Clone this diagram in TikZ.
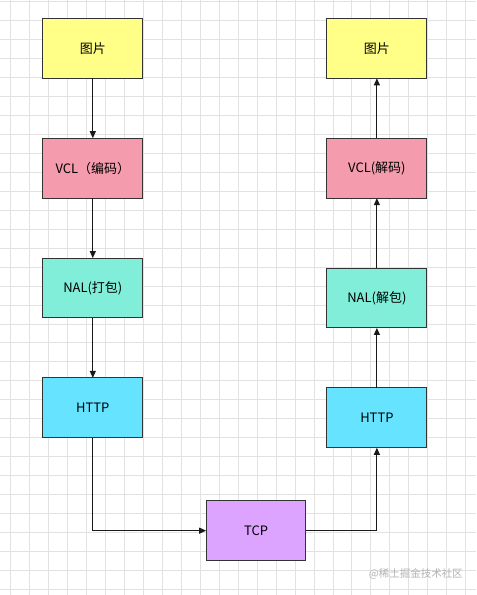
\documentclass[tikz,border=0pt]{standalone}
\usepackage{fontspec}
\setmainfont{Noto Sans CJK SC}
\usepackage{xcolor}
\usetikzlibrary{positioning,arrows.meta}

\definecolor{picyellow}{HTML}{FFFF88}
\definecolor{vclpink}{HTML}{F49CAD}
\definecolor{nalmint}{HTML}{80EED8}
\definecolor{httpcyan}{HTML}{66E3FF}
\definecolor{tcppurple}{HTML}{DCA4FF}
\definecolor{gridgray}{HTML}{E2E2E2}

\begin{document}
\begin{tikzpicture}[x=1pt, y=-1pt,
      every node/.style = {minimum width = 100pt, minimum height = 60pt, draw = black!80, rectangle, line width = 1pt, outer sep = 0pt, font = \fontsize{13}{15}\selectfont, inner sep = 0pt},
      flow/.style = {draw = black!90, line width = 1pt, -{Triangle[length = 7pt, width = 6pt]}}
      ]
      % background grid
      \fill[white] (0,0) rectangle (476,595);
      \foreach \gx in {10,29,...,476} \draw[gridgray, line width = 0.9pt] (\gx,0) -- (\gx,595);
      \foreach \gy in {1,20,...,595} \draw[gridgray, line width = 0.9pt] (0,\gy) -- (476,\gy);
      \useasboundingbox (0,0) rectangle (476,595);

      % sender side
      \node[fill = picyellow] (picL) at (92.5,48) {图片};
      \node[fill = vclpink, below = 60pt of picL] (vclL) {VCL（编码）};
      \node[fill = nalmint, below = 60pt of vclL] (nalL) {NAL(打包)};
      \node[fill = httpcyan, below = 60pt of nalL] (httpL) {HTTP};

      % network
      \node[fill = tcppurple] (tcp) at (256,531) {TCP};

      % receiver side
      \node[fill = picyellow] (picR) at (377,48) {图片};
      \node[fill = vclpink, below = 60pt of picR] (vclR) {VCL(解码)};
      \node[fill = nalmint, below = 70pt of vclR] (nalR) {NAL(解包)};
      \node[fill = httpcyan, below = 60pt of nalR] (httpR) {HTTP};

      \draw[flow] (picL) -- (vclL);
      \draw[flow] (vclL) -- (nalL);
      \draw[flow] (nalL) -- (httpL);
      \draw[flow] (httpL) |- (tcp);
      \draw[flow] (tcp) -| (httpR);
      \draw[flow] (httpR) -- (nalR);
      \draw[flow] (nalR) -- (vclR);
      \draw[flow] (vclR) -- (picR);

      \node[draw = none, minimum width = 0pt, minimum height = 0pt, text = black!30, font = \fontsize{10.5}{12}\selectfont] (mark) at (416,574) {@稀土掘金技术社区};
    \end{tikzpicture}
\end{document}
